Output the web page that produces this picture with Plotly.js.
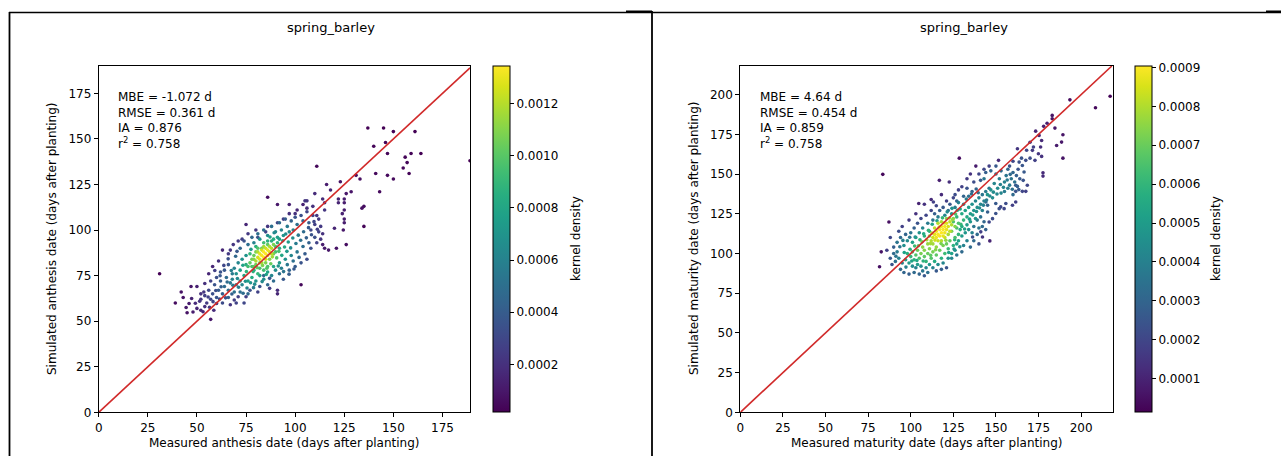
<!DOCTYPE html>
<html>
<head>
<meta charset="utf-8">
<script src="https://cdn.plot.ly/plotly-3.0.1.min.js"></script>
<style>html,body{margin:0;padding:0;background:#fff;}#chart{width:1281px;height:456px;}</style>
</head>
<body>
<div id="chart"></div>
<script>
// ---------- DATA ----------
const panelTitle = "spring_barley";
const leftXLabel = "Measured anthesis date (days after planting)";
const leftYLabel = "Simulated anthesis date (days after planting)";
const rightXLabel = "Measured maturity date (days after planting)";
const rightYLabel = "Simulated maturity date (days after planting)";
const colorbarLabel = "kernel density";
const leftStats = ["MBE = -1.072 d", "RMSE = 0.361 d", "IA = 0.876", "r<sup>2</sup> = 0.758"];
const rightStats = ["MBE = 4.64 d", "RMSE = 0.454 d", "IA = 0.859", "r<sup>2</sup> = 0.758"];
const leftAxisTicks = [0, 25, 50, 75, 100, 125, 150, 175];
const rightAxisTicks = [0, 25, 50, 75, 100, 125, 150, 175, 200];
const leftRange = [0, 189];
const leftYRange = [0, 190];
const rightRange = [0, 218.5];
const rightYRange = [0, 218];
const leftCbarTicks = [0.0002, 0.0004, 0.0006, 0.0008, 0.0010, 0.0012];
const rightCbarTicks = [0.0001, 0.0002, 0.0003, 0.0004, 0.0005, 0.0006, 0.0007, 0.0008, 0.0009];
const leftCbarRange = [0.000016, 0.001343];
const rightCbarRange = [0.0000133, 0.000903];
const leftOneToOne = [0, 189];
const rightOneToOne = [0, 218];

// [measured, simulated, kernel density x 1e-4]
const anthesisPoints = [
[31,76,0.2],[111,135,0.4],[137,156,0.2],[145,156,0.2],[150,154,0.2],[161,154,0.2],[140,146,0.3],[146,148,0.3],[147,142,0.4],[156,140,0.3],
[159,142,0.3],[164,142,0.2],[157,137,0.4],[155,134,0.4],[158,131,0.3],[150,128,0.5],[147,130,0.5],[141,131,0.5],[143,121,0.5],[133,128,0.7],
[131,130,0.7],[135,102,0.3],[126,92,0.6],[121,90,0.8],[117,89,1.0],[115,90,1.1],[114,92,1.2],[103,70,0.4],[135,113,0.6],[134,112,0.7],
[128.5,121,0.9],[126,120,1.0],[125,117,1.2],[125,115,1.2],[125,111,1.2],[124,109,1.4],[125,106,1.2],[125,104,1.2],[124.5,100,1.0],[122,117,1.4],
[122,115,1.5],[123,126.5,0.8],[118,122,1.5],[120,101,1.5],[115,111,2.2],[115,115,2.0],[114,117,1.8],[116,125,1.2],[110,120,1.8],[106,116,2.2],
[105,116,2.2],[97,114,1.4],[91,114,1.0],[86,118,0.6],[189,138,0.1],
[39,60,0.6],[42,66,0.8],[43,63,0.9],[45,54.6,0.8],[46,59.7,1.2],[47,69,1.0],[48,55,1.2],[50,57,1.6],[50,69,1.4],[52,56,1.6],
[52,65,2.0],[53.5,66,2.2],[54,58,2.0],[54,70.7,2.0],[57,51,1.0],[58.6,56,1.8],[60,59.7,2.4],[56,76,1.6],[58,80,1.6],[61,83,2.0],
[63,89,1.6],[66,87,2.4],[67,89,2.2],[68.5,92,2.2],[67,59,2.2],[69,61.6,2.6],[71,63.4,2.6],[75,63.4,2.6],[77,67,3.4],[81,66,2.8],
[82,69,3.4],[84,75,4.4],[87,73.5,3.6],[87,68,2.6],[91,67,1.8],[91,65,1.6],
[52,62,2.2],[54,64,2.6],[55,60,2.4],[56,67,3.0],[57,62,3.0],[58,65,3.4],[59,70,3.6],[60,63,3.6],[61,67,4.0],[62,72,4.2],
[63,60,3.2],[63,65,4.2],[64,69,4.8],[65,74,4.8],[66,63,4.2],[66,67,5.0],[67,71,5.4],[68,76,5.6],[69,66,5.0],[70,70,6.0],
[62,77,3.6],[60,74,3.4],[57,72,2.8],[64,78,3.8],[66,81,3.6],[70,60,2.8],[72,66,5.0],[73,70,6.2],[74,60,3.0],[76,65,4.6],
[68,73,6.0],[69,79,6.0],[70,76,6.8],[71,82,6.2],[72,72,6.8],[72,78,7.6],[73,84,6.8],[74,75,8.0],[75,86,7.0],[76,72,7.6],
[78,74,8.4],[79,80,10.0],[80,91,8.6],[81,76,9.0],[82,82,11.0],[83,90,10.4],[84,78,9.4],[86,94,8.6],[85,84,12.6],[72,90,4.4],
[74,94,3.6],[76,92,5.0],[78,96,4.6],[79,93,6.0],[81,98,5.0],[82,95,6.8],[84,100,5.0],[86,97,6.6],[88,102,5.0],[90,99,6.4],
[92,104,4.6],[93,100,6.2],[95,106,4.0],[96,102,5.6],[98,105,4.4],[99,100,6.0],[100,107,3.6],[101,103,5.0],[103,108,3.4],[104,105,4.4],
[106,110,2.8],[107,104,4.0],[109,108,2.8],[89,95,8.4],[91,96,7.6],[94,97,7.0],[97,99,6.4],
[80,72,7.0],[82,75,7.8],[84,73,6.6],[86,77,7.8],[88,75,6.2],[89,80,8.0],[90,78,6.6],[92,82,7.4],[93,79,5.8],[95,84,6.8],
[96,81,5.4],[98,86,6.2],[99,83,5.0],[101,88,5.4],[102,85,4.6],[104,91,4.8],[105,87,4.0],[107,93,4.2],[108,90,3.4],[110,96,3.4],
[111,93,2.8],[112,99,2.8],[113,95,2.2],[86,70,4.6],[89,72,4.8],[92,76,5.0],[94,73,3.8],[97,78,4.4],[100,80,4.0],[103,82,3.6],[106,84,3.2],
[80,83,11.8],[81,85,12.6],[82,84,12.8],[82,87,13.0],[83,86,13.3],[83,89,12.6],[84,85,13.4],[84,88,13.4],[85,87,13.4],[85,90,12.4],
[86,86,13.2],[86,89,13.0],[87,88,12.8],[87,91,11.8],[88,90,12.0],[84,91,11.6],[81,88,11.8],[79,84,11.0],[88,87,12.0],[89,92,10.8],
[76,80,9.4],[77,82,10.2],[78,84,10.6],[78,80,9.6],[79,86,10.4],[80,88,10.8],[80,81,10.6],[81,90,9.8],[82,79,9.6],[83,82,11.6],
[84,93,9.4],[85,82,10.8],[86,92,10.2],[87,84,11.0],[88,94,8.6],[89,87,10.6],[90,91,9.6],[90,88,9.6],[91,93,8.8],[92,90,8.4],
[75,81,8.6],[77,87,9.0],[79,78,8.6],[86,80,9.6],[92,95,7.6],
[75,103,1.6],[76,98,2.4],[73,95,2.6],[71,94,2.4],[86,102,2.2],[85,99,2.8],[81,96,3.6],[80,100,2.2],[91,104,3.0],[94,106,2.6],
[97,109,2.0],[100,109,2.0],[101,111,1.6],[104,114,1.4],[106,112,1.8],
[108,100,3.0],[110,103,2.6],[112,106,2.2],[113,102,2.4],[111,108,2.2],[109,113,2.0],[114,98,2.0],
[44.5,57.5,1.1],[47.3,62.4,1.5],[49.2,59.8,1.8],[51.4,60.9,2.1],[53.1,55.2,1.5],[55.7,63.3,2.7],[56.4,57.6,2.2],[58.2,60.7,2.9],[59.6,66.8,3.3],[61.5,62.1,3.4],
[62.3,68.9,4.1],[64.6,62.8,3.6],[65.4,71.5,4.8],[67.8,64.9,4.2],[68.3,69.7,5.5],[70.6,73.4,6.4],[71.2,68.6,5.6],[73.5,65.3,4.8],[74.7,71.9,6.8],[75.5,68.2,6.0],
[77.3,71.1,7.0],[78.6,77.2,8.6],[79.4,70.3,6.6],[61.8,74.9,3.8],[63.7,80.6,3.0],[59.1,77.8,2.6],[65.9,84.2,3.4],[69.7,85.6,4.6],[70.4,88.3,3.8],[67.5,77.8,5.8],
[80.6,79.4,10.2],[83.4,80.6,10.8],[85.6,79.1,9.8],[87.6,81.5,10.4],[88.4,85.3,11.6],[90.6,84.7,9.8],[91.7,88.3,9.6],[93.2,86.1,8.0],[94.6,90.7,8.2],[95.8,88.3,7.2],
[96.5,93.4,7.4],[97.7,90.2,6.6],[98.8,95.6,6.6],[100.4,92.6,5.6],[101.6,97.2,5.6],[102.8,94.4,5.0],[104.3,99.1,4.8],[105.7,95.7,4.2],[106.8,101.3,3.8],[108.3,97.4,3.6],
[109.6,104.6,3.0],[111.3,100.4,2.6],[93.7,94.1,7.8],[95.2,97.8,6.6],[89.3,98.5,6.4],[87.2,96.2,7.6],[77.5,89.4,7.2],[75.2,77.2,8.8],[73.4,80.7,7.8],[91.4,80.3,7.0],
[94.1,77.2,5.2],[96.9,75.8,4.0],[99.4,78.6,3.8],[85.3,75.6,7.8],[83.2,71.7,6.4],[78.8,68.4,5.6]
];

const maturityPoints = [
[83.6,149.8,0.3],[217,199,0.2],[208.4,191.7,0.3],[193.4,196.7,0.4],[183,186.9,0.6],[183,184.8,0.6],[184.6,178.9,0.7],[189.3,174.7,0.6],[188.5,170.1,0.7],[185.6,168,0.8],
[189.3,160,0.6],[173.3,177,1.0],[175.3,174.3,1.1],[176.8,171.1,1.2],[176.2,167,1.3],[171.4,164.9,1.6],[174.9,162.8,1.5],[176.8,161.1,1.4],[172.9,158.6,1.8],[177.6,150.8,1.2],
[177.6,148.7,1.2],[162.6,165.9,1.5],[167.5,158.6,2.2],[165.5,155.4,2.5],[163.6,157.5,2.3],[166.5,151.3,2.6],[168.4,142.9,2.0],[167.5,139.1,1.8],[165.5,139.1,2.0],[161.6,139.1,2.4],
[161.6,142.9,2.6],[161.6,132.4,1.8],[159.7,130.3,1.8],[155.8,131.4,2.2],[154.8,128.2,2.0],[151.9,128.2,2.3],[151.5,158.6,1.2],[138.2,155,0.8],[128.5,160,0.4],[116.8,146,0.9],
[122.6,145,1.3],[104.7,131.4,1.0],[113.3,132.4,1.8],[87.2,119.8,0.5],[82.7,101,0.6],[81.7,91.6,0.5],[146.4,107.9,1.0],[142.1,110.4,1.5],[141.1,113.6,1.8],[136.3,110.4,2.2],
[146,119.8,2.0],[148,121.9,2.2],[149.9,125.1,2.4],[152.8,129.3,2.0],[149.9,131.4,2.6],[145.1,126.1,2.8],[145.1,130.3,3.0],[144.1,132.4,3.2],
[150,150,3.5],[152,147,3.8],[153,152,3.2],[155,145,4.0],[156,149,3.6],[157,153,3.0],[158,143,3.8],[159,147,3.5],[160,151,3.0],[161,145,3.4],
[162,149,2.8],[163,153,2.4],[155,139,3.8],[157,141,3.9],[160,137,3.2],[149,144,4.2],[151,141,4.4],[153,138,4.2],[147,140,4.6],[145,137,4.8],
[148,135,4.4],[164,147,2.6],[166,146,2.4],[150,155,2.6],[147,152,3.0],[144,151,2.8],[143,147,3.6],
[130,142,1.8],[133,147,1.6],[135,150,1.4],[137,145,2.2],[140,150,2.0],[141,146,2.6],[143,153,2.0],[146,155,1.8],[133,141,2.4],[136,139,3.0],
[128,140,1.8],[126,137,2.2],[131,136,3.0],
[125,120,6.5],[127,123,6.0],[128,119,6.5],[130,125,5.5],[131,121,6.0],[132,127,5.2],[133,123,5.5],[134,129,5.0],[135,125,5.0],[136,131,4.6],
[137,127,4.8],[138,122,4.8],[138,133,4.2],[139,129,4.6],[140,135,4.0],[141,131,4.2],[142,127,4.0],[142,137,3.6],[143,133,4.0],[144,139,3.8],
[146,141,3.6],[130,117,5.6],[133,118,5.0],[135,120,4.8],[137,117,3.6],[139,121,3.8],[141,123,3.4],[143,120,3.0],[127,116,6.4],[129,128,5.2],
[131,131,4.4],[128,132,4.0],[134,136,3.4],
[112,108,8.0],[113,110,8.4],[114,112,8.7],[115,110,8.8],[115,114,8.8],[116,112,9.0],[117,115,9.0],[117,111,8.9],[118,113,9.0],[118,117,8.9],
[119,115,9.0],[119,111,8.7],[120,117,8.9],[120,113,8.8],[121,119,8.6],[121,115,8.7],[122,117,8.5],[123,120,8.2],[123,114,8.2],[124,118,8.0],
[125,122,7.4],[126,117,7.4],[113,106,7.8],[111,111,7.6],[110,106,7.6],[116,108,8.3],[118,108,8.0],[120,110,8.2],[122,112,7.9],[114,116,8.2],
[116,119,8.0],[118,120,7.9],[124,114,7.2],[121,122,7.4],
[100,98,6.0],[101,101,6.4],[102,96,5.8],[103,99,6.6],[104,102,7.0],[105,97,6.5],[106,100,7.2],[107,104,7.5],[108,98,6.8],[108,102,7.4],
[109,95,6.0],[110,100,7.0],[111,103,7.4],[112,97,6.6],[113,101,7.2],[114,95,5.6],[115,99,6.8],[115,104,7.6],[117,102,7.0],[118,97,5.8],
[119,105,7.2],[120,100,6.2],[121,106,7.0],[122,103,6.2],[123,108,6.8],[124,100,5.2],[125,105,5.8],[126,110,6.4],[127,106,5.2],[128,112,6.0],
[99,94,5.0],[101,92,4.4],[104,93,5.0],[106,92,4.6],[109,91,4.2],[111,93,4.8],[97,96,5.2],[98,100,5.8],[103,91,4.0],[107,89,3.6],
[113,91,4.0],[116,93,4.4],[119,94,4.2],[122,97,4.6],
[94,90,3.2],[96,88,3.0],[99,87,2.8],[102,88,3.2],[105,87,3.0],[108,86,2.6],[110,88,3.4],[91,95,3.4],[93,97,4.0],[95,94,4.2],
[89,93,2.4],[88,97,2.6],[90,100,3.2],[92,101,3.8],[115,89,2.6],[118,90,2.8],[121,91,2.4],
[126,102,4.4],[128,108,5.2],[130,111,5.0],[131,105,4.0],[132,113,4.8],[133,108,4.0],[134,115,4.6],[135,104,3.2],[136,113,4.0],[137,108,3.2],
[139,112,3.2],[140,116,3.6],[140,106,2.4],[142,117,3.2],[144,115,2.8],[129,115,5.6],[127,99,3.6],[124,97,4.2],[130,101,3.2],
[92,107,3.6],[94,110,3.2],[96,105,4.6],[97,112,3.0],[98,108,4.4],[100,113,3.6],[101,107,5.2],[102,116,2.8],[103,110,5.0],[104,119,2.4],
[105,113,4.6],[106,122,2.0],[107,116,4.2],[108,111,5.8],[109,124,2.0],[110,119,3.8],[111,114,5.6],[112,127,2.0],[113,121,3.6],[114,125,2.8],
[115,130,2.0],[116,123,3.8],[117,127,2.8],[119,129,2.6],[120,124,4.2],[121,133,1.8],[122,127,3.4],[123,131,2.6],[124,125,4.8],[125,135,2.0],
[126,129,4.0],[127,133,3.0],[95,117,1.8],[99,121,1.6],[103,125,1.4],[108,131,1.4],[112,134,1.2],[118,137,1.2],[90,104,2.8],[88,110,2.0],
[86,102,1.8],[93,114,2.2],
[178,180,1.0],[180,182,0.9],[170,170,1.6],[168,165,2.0],[172,167,1.8],[170,160,2.2],[165,160,2.4],[160,158,2.0],[158,155,2.4],
[104.5,104.8,6.8],[106.6,107.3,7.2],[109.4,108.6,7.8],[111.6,106.2,7.8],[112.4,112.8,8.2],[114.2,108.4,8.4],[116.7,116.6,8.8],[119.6,119.2,8.6],[122.8,122.3,7.8],[124.6,121.2,7.6],
[126.3,124.8,6.6],[120.6,108.3,7.6],[117.8,106.2,7.2],[114.6,102.3,7.4],[111.7,98.8,6.8],[107.3,95.2,5.8],[103.6,95.6,5.4],[100.6,95.2,5.2],[97.2,91.4,4.0],[102.3,104.7,6.2],
[99.6,102.6,5.6],[96.2,100.6,5.2],[95.4,108.2,4.0],[93.6,104.2,3.6],[91.3,98.2,3.6],[122.3,100.6,5.2],[125.4,102.8,4.8],[128.8,104.2,4.4],[125.8,108.6,5.8],[129.4,118.4,6.0],
[131.6,115.4,5.2],[134.5,121.6,5.0],[136.4,124.2,5.0],[138.6,126.4,4.6],[140.4,128.6,4.4],[142.6,130.4,4.0],[144.5,133.6,3.8],[146.4,136.2,4.2],[148.5,138.6,4.4],[150.6,137.4,4.2],
[152.6,143.4,4.0],[154.4,141.6,4.2],[156.6,146.2,3.8],[158.4,149.8,3.2],[159.6,140.4,3.4],[162.6,142.2,2.8],[163.4,140.2,2.6],[132.6,134.2,3.8],[135.6,137.4,3.4],[138.4,140.6,3.0],
[139.6,138.2,3.4],[127.4,127.2,5.6],[124.2,128.4,4.6],[121.4,126.2,4.4],[118.6,122.4,6.0],[115.4,120.6,5.2],[112.6,118.4,5.4],[110.4,114.6,6.0],[107.6,112.4,5.6],[105.4,108.6,5.8],
[102.6,110.4,4.2],[99.4,110.2,3.6]
];

// ---------- BUILD ----------
const W = 1281, H = 456;
const px = v => v / W;          // pixel -> paper x
const py = v => 1 - v / H;      // pixel (from top) -> paper y
const FONT = "DejaVu Sans, sans-serif";

function unpack(points) {
  const sorted = points.slice().sort((a, b) => a[2] - b[2]); // densest drawn last
  return {
    x: sorted.map(p => p[0]),
    y: sorted.map(p => p[1]),
    c: sorted.map(p => p[2] * 1e-4)
  };
}
const L = unpack(anthesisPoints);
const R = unpack(maturityPoints);

const plotTop = 66, plotBottom = 412.3;
const yDomain = [py(plotBottom), py(plotTop)];

function cbar(xPix, ticks) {
  return {
    x: px(xPix), xanchor: 'left', xref: 'paper', xpad: 0,
    y: yDomain[0], yanchor: 'bottom', ypad: 0,
    len: yDomain[1] - yDomain[0], lenmode: 'fraction',
    thickness: 17, thicknessmode: 'pixels',
    outlinewidth: 1, outlinecolor: '#000',
    ticks: 'outside', ticklen: 4, tickcolor: '#000',
    tickvals: ticks, ticktext: ticks.map(t => t.toFixed(4)),
    tickfont: {family: FONT, size: 12, color: '#000'}
  };
}

const traces = [
  {
    type: 'scatter', mode: 'markers', x: L.x, y: L.y, xaxis: 'x', yaxis: 'y',
    marker: {size: 3.6, color: L.c, colorscale: 'Viridis', cmin: leftCbarRange[0], cmax: leftCbarRange[1],
             showscale: true, colorbar: cbar(493, leftCbarTicks)},
    hoverinfo: 'skip', showlegend: false
  },
  {
    type: 'scatter', mode: 'lines', x: leftOneToOne, y: leftOneToOne, xaxis: 'x', yaxis: 'y',
    line: {color: '#d12a2a', width: 1.6}, hoverinfo: 'skip', showlegend: false
  },
  {
    type: 'scatter', mode: 'markers', x: R.x, y: R.y, xaxis: 'x2', yaxis: 'y2',
    marker: {size: 3.6, color: R.c, colorscale: 'Viridis', cmin: rightCbarRange[0], cmax: rightCbarRange[1],
             showscale: true, colorbar: cbar(1135, rightCbarTicks)},
    hoverinfo: 'skip', showlegend: false
  },
  {
    type: 'scatter', mode: 'lines', x: rightOneToOne, y: rightOneToOne, xaxis: 'x2', yaxis: 'y2',
    line: {color: '#d12a2a', width: 1.6}, hoverinfo: 'skip', showlegend: false
  }
];

function axis(domain, range, ticks, anchor) {
  return {
    domain: domain, range: range, anchor: anchor,
    tickvals: ticks, ticktext: ticks.map(String),
    showgrid: false, zeroline: false,
    showline: true, linecolor: '#000', linewidth: 1, mirror: true,
    ticks: 'outside', ticklen: 4, tickwidth: 1, tickcolor: '#000',
    tickfont: {family: FONT, size: 12, color: '#000'},
    fixedrange: true
  };
}

const leftX0 = 98.7, leftX1 = 470, rightX0 = 740.3, rightX1 = 1112.7;
const txt = (size) => ({family: FONT, size: size, color: '#000'});
const ann = (text, xp, yp, extra) => Object.assign({text: text, x: px(xp), y: py(yp), xref: 'paper', yref: 'paper', showarrow: false, xanchor: 'center', yanchor: 'middle', font: txt(12)}, extra || {});

const annotations = [
  ann(panelTitle, 331, 27, {font: txt(13)}),
  ann(panelTitle, 964, 27, {font: txt(13)}),
  ann(leftXLabel, (leftX0 + leftX1) / 2, 443),
  ann(rightXLabel, (rightX0 + rightX1) / 2, 443),
  ann(leftYLabel, 52, 239, {textangle: -90}),
  ann(rightYLabel, 694, 239, {textangle: -90}),
  ann(colorbarLabel, 576, 239, {textangle: -90}),
  ann(colorbarLabel, 1216, 239, {textangle: -90}),
  ann(leftStats.join('<br>'), 116, 88, {xanchor: 'left', yanchor: 'top', align: 'left'}),
  ann(rightStats.join('<br>'), 758, 88, {xanchor: 'left', yanchor: 'top', align: 'left'})
];

const shapes = [
  {type: 'line', xref: 'paper', yref: 'paper', x0: px(9), x1: px(1281), y0: py(12.5), y1: py(12.5), line: {color: '#000', width: 1.5}},
  {type: 'line', xref: 'paper', yref: 'paper', x0: px(626), x1: px(652), y0: py(11.5), y1: py(11.5), line: {color: '#000', width: 2}},
  {type: 'line', xref: 'paper', yref: 'paper', x0: px(1266), x1: px(1281), y0: py(11.5), y1: py(11.5), line: {color: '#000', width: 2}},
  {type: 'line', xref: 'paper', yref: 'paper', x0: px(9.5), x1: px(9.5), y0: py(12), y1: py(456), line: {color: '#000', width: 1.8}},
  {type: 'line', xref: 'paper', yref: 'paper', x0: px(652), x1: px(652), y0: py(11), y1: py(456), line: {color: '#000', width: 1.8}}
];

const layout = {
  width: W, height: H,
  margin: {l: 0, r: 0, t: 0, b: 0, pad: 0},
  paper_bgcolor: '#fff', plot_bgcolor: '#fff',
  font: {family: FONT, size: 12, color: '#000'},
  xaxis: axis([px(leftX0), px(leftX1)], leftRange, leftAxisTicks, 'y'),
  yaxis: axis(yDomain, leftYRange, leftAxisTicks, 'x'),
  xaxis2: axis([px(rightX0), px(rightX1)], rightRange, rightAxisTicks, 'y2'),
  yaxis2: axis(yDomain, rightYRange, rightAxisTicks, 'x2'),
  annotations: annotations,
  shapes: shapes,
  showlegend: false
};

Plotly.newPlot('chart', traces, layout, {staticPlot: true, displayModeBar: false});
</script>
</body>
</html>
